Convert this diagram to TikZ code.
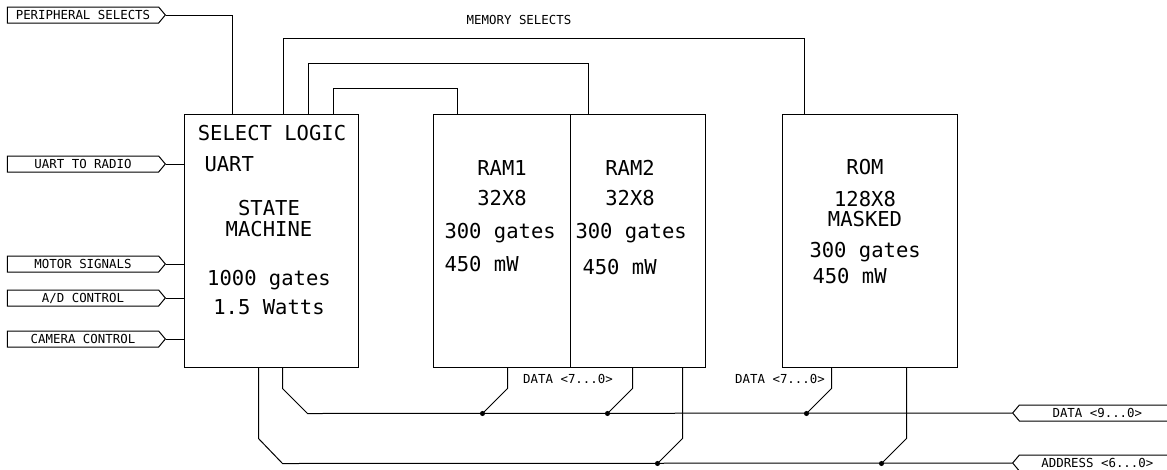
\documentclass[tikz,border=0pt]{standalone}
\usepackage{fontspec}
\setmonofont{DejaVu Sans Mono}
\usetikzlibrary{shapes.symbols}

\begin{document}
\begin{tikzpicture}[x=0.75pt,y=-0.75pt,line width=0.75pt,
  block/.style={draw, rectangle, minimum height=189.75pt, inner sep=0pt},
  big/.style={font=\ttfamily\fontsize{15.4}{17}\selectfont, inner sep=0pt},
  small/.style={font=\ttfamily\fontsize{9.3}{11}\selectfont, inner sep=0pt},
  inport/.style={draw, small, signal, signal to=east, signal pointer angle=100,
    minimum width=118.5pt, minimum height=12pt},
  outport/.style={draw, small, signal, signal to=west, signal pointer angle=100,
    minimum width=122pt, minimum height=12pt},
  tap/.style={fill, radius=1.9pt}]
\clip (0,0) rectangle (1167,469);

% blocks
\node[block, minimum width=130.5pt] (sel) at (271,240.5) {};
\node[block, minimum width=102.75pt] (ram1) at (501.5,240.5) {};
\node[block, minimum width=101.25pt] (ram2) at (637.5,240.5) {};
\node[block, minimum width=131.25pt] (rom) at (869.5,240.5) {};

% block texts
\node[big] (sellogic) at (272,133) {SELECT LOGIC};
\node[big, anchor=west] (uart) at (204,164) {UART};
\node[big] (state) at (269,208) {STATE};
\node[big] (machine) at (269,229) {MACHINE};
\node[big] (selgates) at (269,280) {1000 gates};
\node[big] (selpower) at (269,307) {1.5 Watts};

\node[big] (ram1name) at (502,168) {RAM1};
\node[big] (ram1size) at (502,198) {32X8};
\node[big, anchor=west] (ram1gates) at (444,233) {300 gates};
\node[big, anchor=west] (ram1power) at (444,264) {450 mW};

\node[big] (ram2name) at (630,168) {RAM2};
\node[big] (ram2size) at (630,198) {32X8};
\node[big, anchor=west] (ram2gates) at (575,233) {300 gates};
\node[big, anchor=west] (ram2power) at (582,267) {450 mW};

\node[big] (romname) at (865,167) {ROM};
\node[big] (romsize) at (865,199) {128X8};
\node[big] (romkind) at (865,219) {MASKED};
\node[big, anchor=west] (romgates) at (809,252) {300 gates};
\node[big, anchor=west] (rompower) at (812,276) {450 mW};

% ports
\node[inport, anchor=east] (periph) at (166,15) {PERIPHERAL SELECTS};
\node[inport, anchor=east] (radio) at (166,164) {UART TO RADIO};
\node[inport, anchor=east] (motor) at (166,264) {MOTOR SIGNALS};
\node[inport, anchor=east] (adc) at (166,298) {A/D CONTROL};
\node[inport, anchor=east] (camera) at (166,339) {CAMERA CONTROL};
\node[outport, anchor=west] (databus) at (1012,413) {DATA <9...0>};
\node[outport, anchor=west] (addrbus) at (1012,463) {ADDRESS <6...0>};

% bus labels
\node[small] (memsel) at (519,20) {MEMORY SELECTS};
\node[small] (ramdata) at (568,379) {DATA <7...0>};
\node[small] (romdata) at (780,379) {DATA <7...0>};

% select lines
\coordinate (ms1) at (283,38);
\coordinate (ms2) at (308,63);
\coordinate (ms3) at (333,88);
\draw (sel.north west) ++(49,0) |- (periph.east);
\draw (rom.north west) ++(23,0) |- (ms1) -- (sel.north -| ms1);
\draw (ram2.north west) ++(19,0) |- (ms2) -- (sel.north -| ms2);
\draw (ram1.north west) ++(25,0) |- (ms3) -- (sel.north -| ms3);

\draw (radio.east) -- (radio.east -| sel.west);
\draw (motor.east) -- (motor.east -| sel.west);
\draw (adc.east) -- (adc.east -| sel.west);
\draw (camera.east) -- (camera.east -| sel.west);

% data bus
\draw (sel.south west) ++(99,0) -- ++(0,21) -- ++(25,25) -- (databus.west);
\draw (ram1.south west) ++(75,0) -- ++(0,21) -- ++(-25,25) coordinate (t1);
\draw (ram2.south west) ++(63,0) -- ++(0,21) -- ++(-25,25) coordinate (t2);
\draw (rom.south west) ++(50,0) -- ++(0,21) -- ++(-25,25) coordinate (t3);
\fill[tap] (t1) circle;
\fill[tap] (t2) circle;
\fill[tap] (t3) circle;

% address bus
\draw (sel.south west) ++(75,0) -- ++(0,71) -- ++(24,25) -- (addrbus.west);
\draw (ram2.south west) ++(113,0) -- ++(0,71) -- ++(-25,25) coordinate (t4);
\draw (rom.south west) ++(125,0) -- ++(0,71) -- ++(-25,25) coordinate (t5);
\fill[tap] (t4) circle;
\fill[tap] (t5) circle;
\end{tikzpicture}
\end{document}
